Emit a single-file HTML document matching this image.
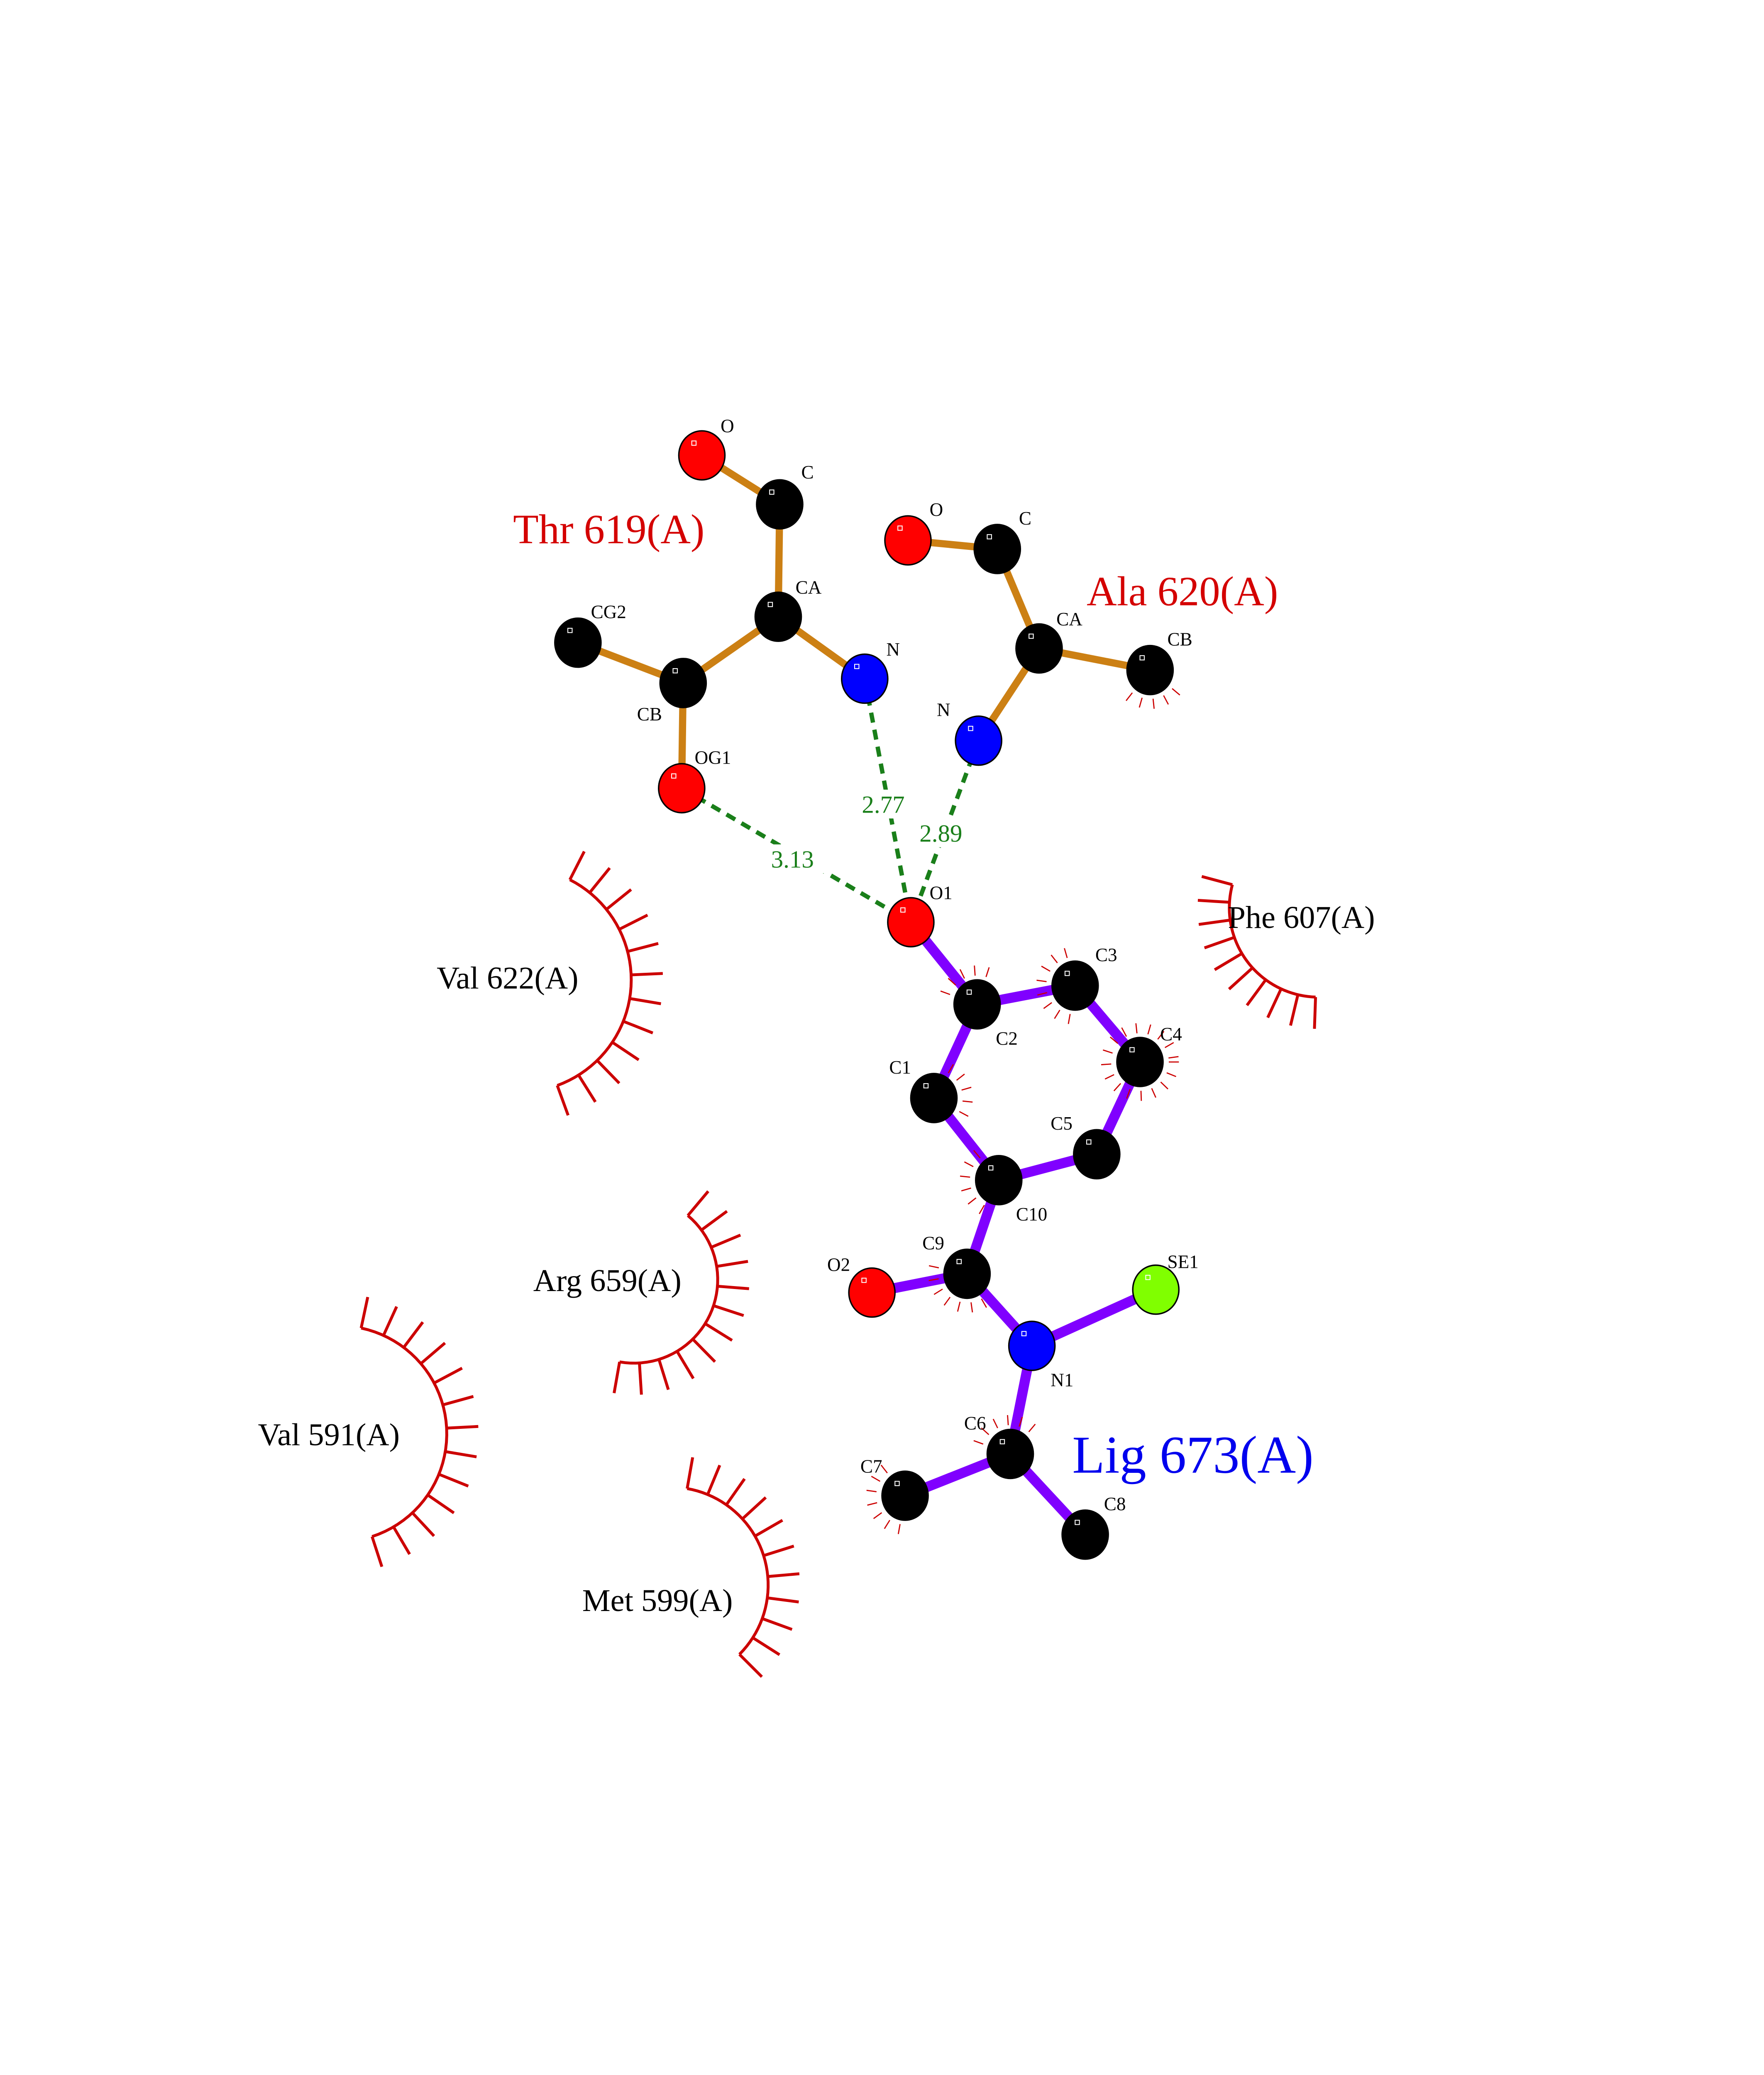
<!DOCTYPE html>
<html><head><meta charset="utf-8"><style>
html,body{margin:0;padding:0;background:#fff;width:4250px;height:5500px;overflow:hidden;}
svg{display:block;position:absolute;left:0;top:0;}
text{font-family:"Liberation Serif",serif;}
</style></head><body>
<svg id="s" xmlns="http://www.w3.org/2000/svg" width="4250" height="5500" viewBox="0 0 1224 1584">
<rect width="1224" height="1584" fill="#fff"/>
<g id="bonds" stroke-linecap="round"></g>
<g id="hb" stroke="#1a7f1a" stroke-width="3" stroke-dasharray="7,5" fill="none">
<line x1="473" y1="547" x2="632" y2="640"/>
<line x1="600" y1="471" x2="632" y2="640"/>
<line x1="679" y1="514" x2="632" y2="640"/>
</g>
<g fill="#fff">
<rect x="533" y="586" width="40" height="20"/>
<rect x="596" y="548" width="40" height="20"/>
<rect x="636" y="568" width="40" height="20"/>
</g>
<g id="arcs" stroke="#cc0000" fill="none"></g>
<g id="atoms"></g>
<g font-size="17" fill="#1a7f1a">
<text x="535" y="602">3.13</text>
<text x="598" y="564">2.77</text>
<text x="638" y="584">2.89</text>
</g>
<g font-size="13" fill="#000">
<text x="500" y="300">O</text><text x="556" y="332">C</text><text x="552" y="412">CA</text>
<text x="615" y="455">N</text><text x="442" y="500">CB</text><text x="410" y="429">CG2</text>
<text x="482" y="530">OG1</text>
<text x="645" y="358">O</text><text x="707" y="364">C</text><text x="733" y="434">CA</text>
<text x="810" y="448">CB</text><text x="650" y="497">N</text>
<text x="645" y="624">O1</text><text x="760" y="667">C3</text><text x="691" y="725">C2</text>
<text x="805" y="722">C4</text><text x="617" y="745">C1</text><text x="729" y="784">C5</text>
<text x="705" y="847">C10</text><text x="640" y="867">C9</text><text x="574" y="882">O2</text>
<text x="810" y="880">SE1</text><text x="729" y="962">N1</text><text x="669" y="992">C6</text>
<text x="597" y="1022">C7</text><text x="766" y="1048">C8</text>
</g>
<g font-size="22" fill="#000">
<text x="303" y="686">Val 622(A)</text>
<text x="852" y="644">Phe 607(A)</text>
<text x="370" y="896">Arg 659(A)</text>
<text x="179" y="1003">Val 591(A)</text>
<text x="404" y="1118">Met 599(A)</text>
</g>
<text x="356" y="377" font-size="29" fill="#d40000">Thr 619(A)</text>
<text x="754" y="420" font-size="29" fill="#d40000">Ala 620(A)</text>
<text x="744" y="1022" font-size="37" fill="#0000ee">Lig 673(A)</text>
<text x="58" y="1470" font-size="14" fill="#000">.</text>
</svg>
<script>
var NS="http://www.w3.org/2000/svg";
function el(p,t,a){var e=document.createElementNS(NS,t);for(var k in a)e.setAttribute(k,a[k]);document.getElementById(p).appendChild(e);return e;}
var A={tO:[487,316,'r'],tC:[541,350,'k'],tCA:[540,428,'k'],tN:[600,471,'b'],tCB:[474,474,'k'],tCG2:[401,446,'k'],tOG1:[473,547,'r'],
aO:[630,375,'r'],aC:[692,381,'k'],aCA:[721,450,'k'],aCB:[798,465,'k'],aN:[679,514,'b'],
O1:[632,640,'r'],C2:[678,697,'k'],C3:[746,684,'k'],C4:[791,737,'k'],C5:[761,801,'k'],C10:[693,819,'k'],C1:[648,762,'k'],
C9:[671,884,'k'],O2:[605,897,'r'],N1:[716,934,'b'],SE1:[802,895,'g'],C6:[701,1009,'k'],C7:[628,1038,'k'],C8:[753,1065,'k']};
var ob=[['tO','tC'],['tC','tCA'],['tCA','tN'],['tCA','tCB'],['tCB','tCG2'],['tCB','tOG1'],['aO','aC'],['aC','aCA'],['aCA','aCB'],['aCA','aN']];
var pb=[['O1','C2'],['C2','C3'],['C3','C4'],['C4','C5'],['C5','C10'],['C10','C1'],['C1','C2'],['C10','C9'],['C9','O2'],['C9','N1'],['N1','SE1'],['N1','C6'],['C6','C7'],['C6','C8']];
ob.forEach(function(b){el('bonds','line',{x1:A[b[0]][0],y1:A[b[0]][1],x2:A[b[1]][0],y2:A[b[1]][1],stroke:'#cc8014','stroke-width':5});});
pb.forEach(function(b){el('bonds','line',{x1:A[b[0]][0],y1:A[b[0]][1],x2:A[b[1]][0],y2:A[b[1]][1],stroke:'#8000ff','stroke-width':7});});
var col={r:'#ff0000',k:'#000',b:'#0000ff',g:'#80ff00'};
[['aCB',40,140],['C3',100,260],['C4',0,360],['C1',-60,40],['C10',120,240],['C9',60,200],['C7',100,250],['C6',200,320],['C2',200,300]].forEach(function(s){
 var a=A[s[0]];for(var d=s[1];d<=s[2];d+=22){var r=d*Math.PI/180;
 el('arcs','line',{x1:a[0]+20*Math.cos(r),y1:a[1]+20*Math.sin(r),x2:a[0]+27*Math.cos(r),y2:a[1]+27*Math.sin(r),'stroke-width':0.8});}});
for(var k in A){var a=A[k];
 el('atoms','ellipse',{cx:a[0],cy:a[1],rx:16,ry:17,fill:col[a[2]],stroke:'#000','stroke-width':1});
 el('atoms','rect',{x:a[0]-7,y:a[1]-10,width:3,height:3,fill:'none',stroke:'#fff','stroke-width':0.6});}
function arc(cx,cy,r,a0,a1,n,L){
 var p='';for(var i=0;i<=40;i++){var t=(a0+(a1-a0)*i/40)*Math.PI/180;p+=(i?'L':'M')+(cx+r*Math.cos(t))+' '+(cy+r*Math.sin(t));}
 el('arcs','path',{d:p,'stroke-width':2});
 for(var i=0;i<n;i++){var t=(a0+(a1-a0)*i/(n-1))*Math.PI/180;
 el('arcs','line',{x1:cx+r*Math.cos(t),y1:cy+r*Math.sin(t),x2:cx+(r+L)*Math.cos(t),y2:cy+(r+L)*Math.sin(t),'stroke-width':2});}}
arc(360,680,78,-63,70,12,22);
arc(915,630,62,92,195,10,22);
arc(440,888,58,-50,100,12,22);
arc(235,995,75,-78,72,13,22);
arc(465,1100,68,-80,45,11,22);
</script>
</body></html>
